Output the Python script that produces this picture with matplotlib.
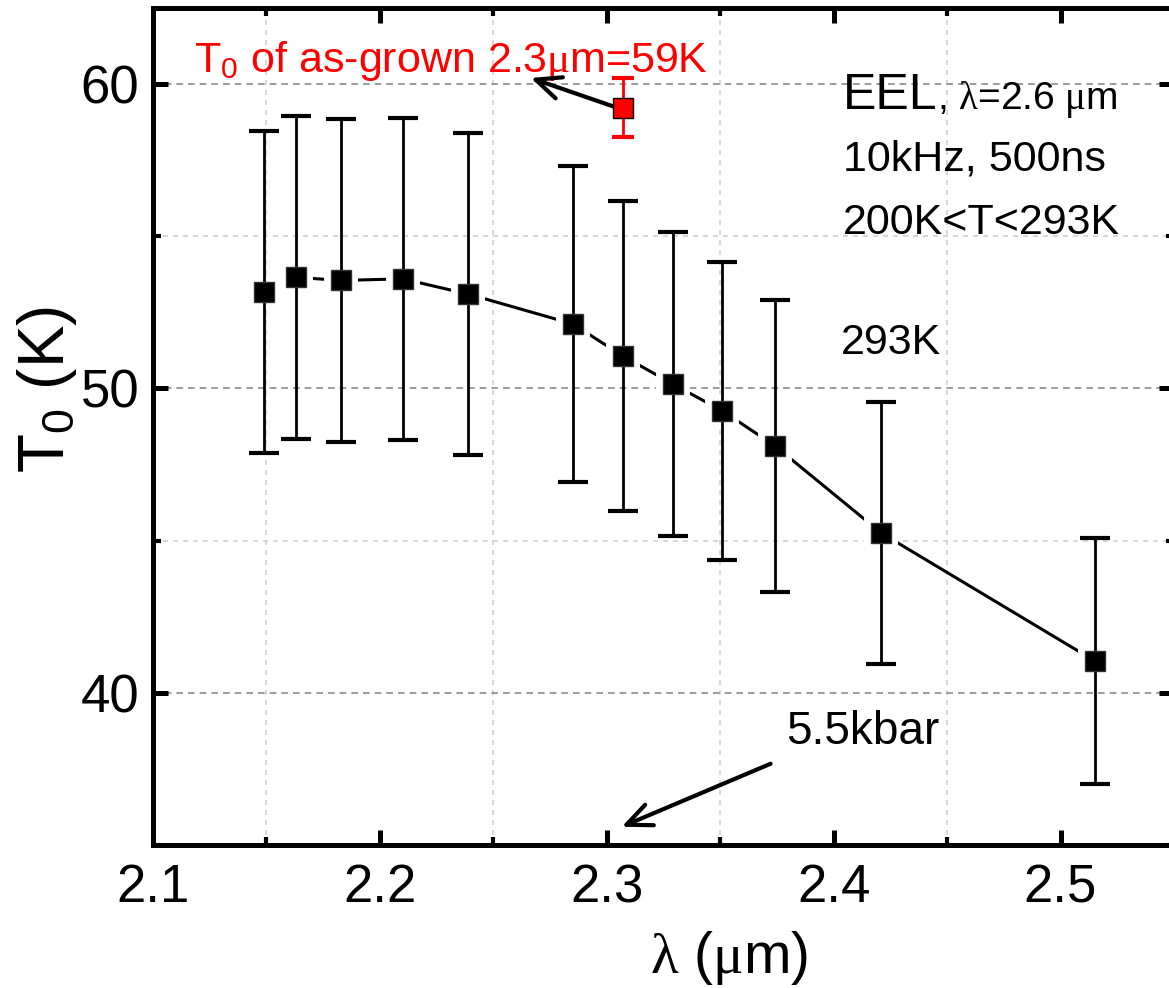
import numpy as np
import matplotlib
matplotlib.use('Agg')
from matplotlib import pyplot as plt
from matplotlib.ticker import MultipleLocator

plt.rcParams['font.family'] = ['Liberation Sans', 'DejaVu Sans']
plt.rcParams['mathtext.fontset'] = 'custom'
plt.rcParams['mathtext.rm'] = 'Liberation Serif'
plt.rcParams['mathtext.default'] = 'regular'

# data
lam = [2.149, 2.163, 2.183, 2.210, 2.239, 2.285, 2.307, 2.329, 2.351, 2.374, 2.421, 2.515]
T0 = [53.17, 53.65, 53.55, 53.6, 53.1, 52.12, 51.07, 50.15, 49.26, 48.12, 45.25, 41.05]
T0_err = [5.3, 5.3, 5.3, 5.3, 5.3, 5.2, 5.1, 5.0, 4.9, 4.8, 4.3, 4.05]

lam_grown = [2.307]
T0_grown = [59.22]
T0_grown_err = [0.97]

graph = plt.figure(figsize=(11.69, 9.88), dpi=100)
out = graph.add_axes([153/1169, 143/988, 1021/1169, 837/988])

out.set_xlim(2.1, 2.55)
out.set_ylim(35, 62.5)
out.xaxis.set_major_locator(MultipleLocator(0.1))
out.xaxis.set_minor_locator(MultipleLocator(0.05))
out.yaxis.set_major_locator(MultipleLocator(10))
out.yaxis.set_minor_locator(MultipleLocator(5))

out.set_axisbelow(True)
out.grid(which='major', axis='y', color='#8a8a8a', ls=(0, (4, 3)), lw=1.2)
out.grid(which='minor', axis='both', color='#cfcfcf', ls=(0, (3, 3)), lw=1.2)

for s in out.spines.values():
    s.set_linewidth(3.6)
out.tick_params(which='major', direction='in', length=11, width=3.6,
                top=True, right=True, labelsize=38)
out.tick_params(which='minor', direction='in', length=5.5, width=3,
                top=True, right=True)
out.tick_params(axis='x', which='major', pad=13)
out.tick_params(axis='y', which='major', pad=10)

# line with gaps round the symbols
out.plot(lam, T0, 'k-', lw=2.2, zorder=1)
out.plot(lam, T0, ls='none', marker='s', ms=15, mfc='white', mec='white', mew=10, zorder=2)
out.errorbar(lam, T0, yerr=T0_err, fmt='none', ecolor='k', elinewidth=2,
             capsize=11, capthick=3, zorder=3)
out.plot(lam, T0, ls='none', marker='s', ms=15, mfc='k', mec='#333333', mew=1, zorder=4)

out.errorbar(lam_grown, T0_grown, yerr=T0_grown_err, fmt='none', ecolor='red',
             elinewidth=2, capsize=8, capthick=3, zorder=3)
out.plot(lam_grown, T0_grown, ls='none', marker='s', ms=15, mfc='red', mec='k',
         mew=1, zorder=4)

out.set_xlabel(r'$\mathrm{\lambda}$ ($\mathrm{\mu}$m)', fontsize=41)
out.xaxis.set_label_coords(0.564, -0.10)
out.set_ylabel('T$_0$ (K)', fontsize=46)
out.yaxis.set_label_coords(-0.072, 0.544)

out.text(2.118, 60.41, r'T$_0$ of as-grown 2.3$\mathrm{\mu}$m=59K', color='red',
         fontsize=31, va='baseline', ha='left')
out.annotate('', xy=(2.2665, 60.2), xytext=(2.3035, 59.25),
             arrowprops=dict(arrowstyle='->,head_length=0.9,head_width=0.4',
                             lw=3, color='k', mutation_scale=20, shrinkA=0, shrinkB=0))

out.text(2.4040, 59.19, 'EEL', fontsize=36, va='baseline', ha='left')
out.text(2.4455, 59.19, r', $\mathrm{\lambda}$=2.6 $\mathrm{\mu}$m', fontsize=28,
         va='baseline', ha='left')
out.text(2.4040, 57.15, '10kHz, 500ns', fontsize=31, va='baseline', ha='left')
out.text(2.4040, 55.08, '200K<T<293K', fontsize=31, va='baseline', ha='left')
out.text(2.4030, 51.14, '293K', fontsize=31, va='baseline', ha='left')

out.text(2.3790, 38.31, '5.5kbar', fontsize=33, va='baseline', ha='left')
out.annotate('', xy=(2.3066, 35.6), xytext=(2.3722, 37.67),
             arrowprops=dict(arrowstyle='->,head_length=0.9,head_width=0.4',
                             lw=3, color='k', mutation_scale=20, shrinkA=0, shrinkB=0))

graph.savefig('out.png', dpi=100)
